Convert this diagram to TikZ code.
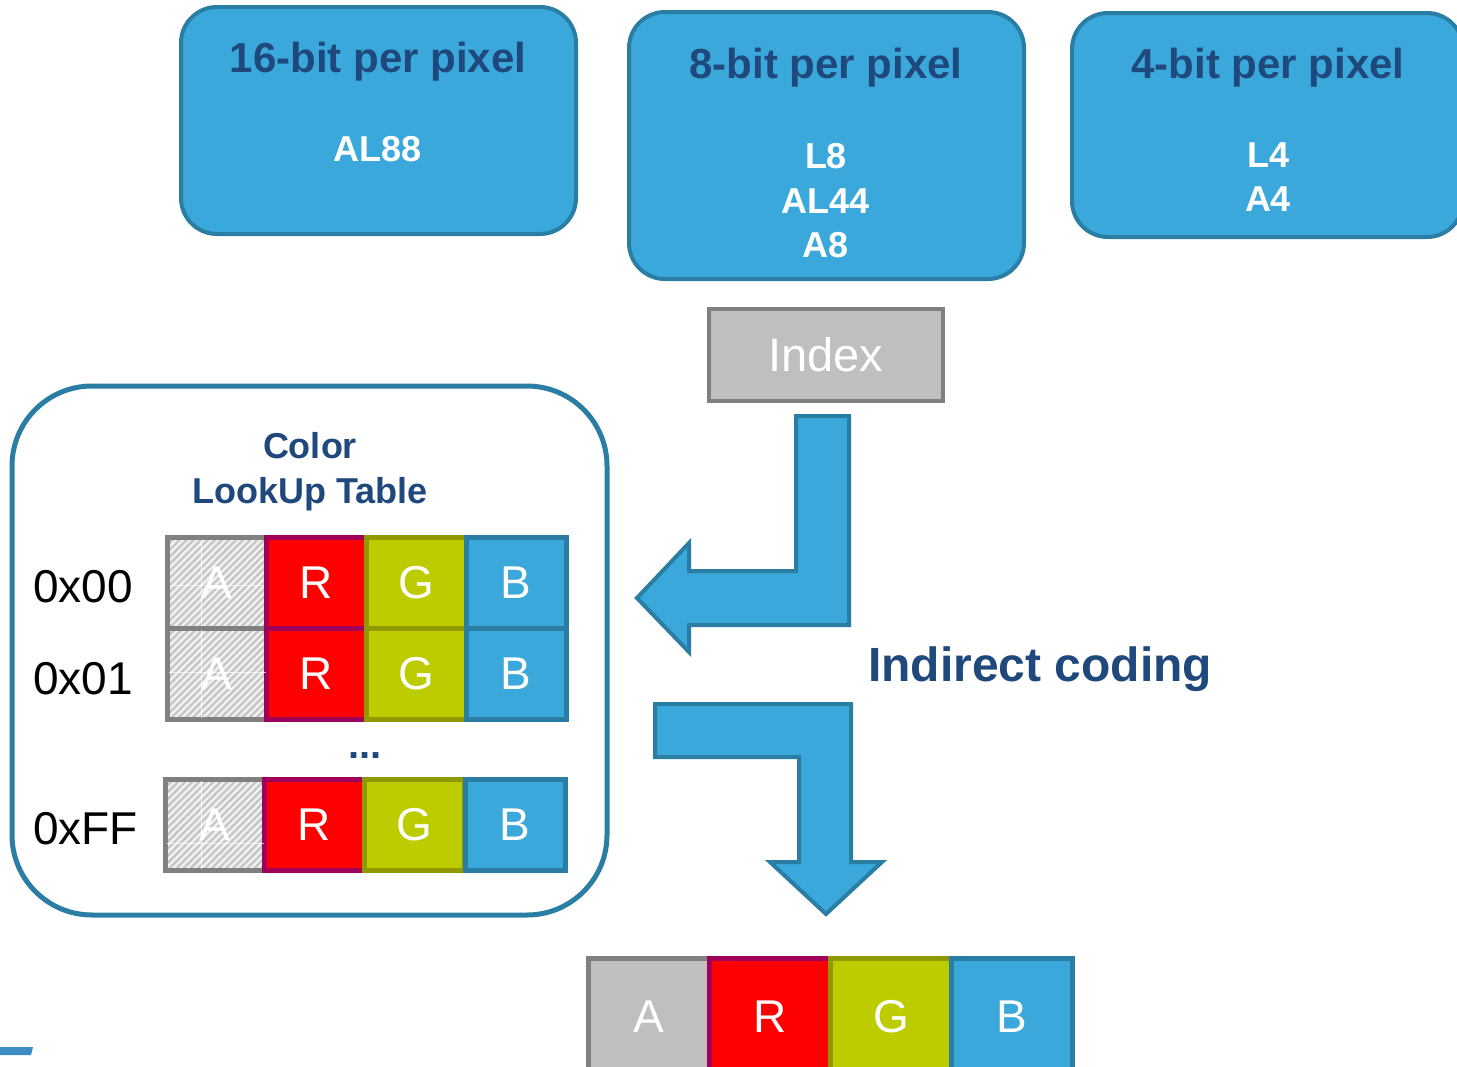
\documentclass[tikz,border=0pt]{standalone}
\usepackage{fontspec}
\setmainfont{Liberation Sans}
\usetikzlibrary{patterns.meta}

\definecolor{boxblue}{HTML}{3AA8DB}
\definecolor{edgeblue}{HTML}{2A7DA3}
\definecolor{navy}{HTML}{1F497D}
\definecolor{idxgray}{HTML}{BFBFBF}
\definecolor{edgegray}{HTML}{808080}
\definecolor{cellred}{HTML}{FF0000}
\definecolor{edgered}{HTML}{A0005A}
\definecolor{cellgreen}{HTML}{BDCC00}
\definecolor{edgegreen}{HTML}{8F9900}
\definecolor{hatchbg}{HTML}{F2F2F2}
\definecolor{hatchline}{HTML}{C6C6C6}
\definecolor{tabblue}{HTML}{3C8DC4}

\newcommand\fsz[1]{\fontsize{#1}{#1}\selectfont}

\begin{document}
\begin{tikzpicture}[x=1pt,y=-1pt,
  fmtbox/.style={draw=edgeblue, fill=boxblue, line width=4pt, rounded corners=36pt, inner sep=0pt},
  hdr/.style={anchor=base, text=navy, font=\fsz{42}\bfseries, inner sep=0pt},
  fmt/.style={anchor=base, text=white, font=\fsz{36}\bfseries, inner sep=0pt},
  cell/.style={minimum width=100pt, minimum height=91pt, inner sep=0pt, line width=5pt, text=white, font=\fsz{46}},
  acell/.style={cell, draw=edgegray, preaction={fill=hatchbg},
                pattern={Lines[angle=45,distance=5pt,line width=2.4pt]}, pattern color=hatchline},
  rcell/.style={cell, draw=edgered, fill=cellred},
  gcell/.style={cell, draw=edgegreen, fill=cellgreen},
  bcell/.style={cell, draw=edgeblue, fill=boxblue},
  wide/.style={minimum width=121pt, minimum height=117pt},
  rowlbl/.style={anchor=base west, font=\fsz{46}, inner sep=0pt},
  bendarrow/.style={draw=edgeblue, fill=boxblue, line width=4pt, line join=miter},
  tilegap/.style={white, line width=1pt, opacity=.7}
]
\useasboundingbox (0,0) rectangle (1457,1066);
\clip (0,0) rectangle (1457,1066);

% pixel-format boxes
\node[fmtbox, minimum width=395pt, minimum height=227pt] (b16) at (378.5,120.5) {};
\node[hdr] (h16) at (378,72) {16-bit per pixel};
\node[fmt] (al88) at (378,161) {AL88};

\node[fmtbox, minimum width=395pt, minimum height=267pt] (b8) at (826.5,145.5) {};
\node[hdr] (h8) at (826,78) {8-bit per pixel};
\node[fmt] (l8) at (826,168) {L8};
\node[fmt] (al44) at (826,213) {AL44};
\node[fmt] (a8) at (826,257) {A8};

\node[fmtbox, minimum width=391pt, minimum height=224pt] (b4) at (1267.5,125) {};
\node[hdr] (h4) at (1268,78) {4-bit per pixel};
\node[fmt] (l4) at (1268,167) {L4};
\node[fmt] (a4) at (1268,211) {A4};

% index
\node[draw=edgegray, fill=idxgray, line width=4pt, minimum width=234pt, minimum height=92pt,
      inner sep=0pt, text=white, font=\fsz{47}] (idx) at (826,355) {Index};

% colour lookup table
\node[draw=edgeblue, fill=white, line width=5pt, rounded corners=80pt,
      minimum width=595pt, minimum height=529pt, inner sep=0pt] (clut) at (309.5,650.5) {};
\node[anchor=base, text=navy, font=\fsz{36}\bfseries, inner sep=0pt] (clutA) at (310,458) {Color};
\node[anchor=base, text=navy, font=\fsz{36}\bfseries, inner sep=0pt] (clutB) at (310,503) {LookUp Table};

\node[rowlbl] (r0) at (33,602) {0x00};
\node[acell] (a0) at (217,583) {A};
\node[rcell] (rr0) at (316,583) {R};
\node[gcell] (g0) at (416,583) {G};
\node[bcell] (bb0) at (516,583) {B};

\node[rowlbl] (r1) at (33,694) {0x01};
\node[acell] (a1) at (217,674) {A};
\node[rcell] (rr1) at (316,674) {R};
\node[gcell] (g1) at (416,674) {G};
\node[bcell] (bb1) at (516,674) {B};

\node[anchor=base, text=navy, font=\fsz{40}\bfseries, inner sep=0pt] (dots) at (365,758) {...};

\node[rowlbl] (rf) at (33,844) {0xFF};
\node[acell] (af) at (215,825) {A};
\node[rcell] (rrf) at (314,825) {R};
\node[gcell] (gf) at (414,825) {G};
\node[bcell] (bbf) at (515,825) {B};

% faint tile seams inside the hatched cells
\foreach \c/\yy in {a0/585, a1/672, af/843} {
  \draw[tilegap] (\c.west |- 0,\yy) ++(4,0) -- ([xshift=-4pt]\c.east |- 0,\yy);
  \draw[tilegap] ([yshift=-4pt]\c.north -| 201,0) -- ([yshift=4pt]\c.south -| 201,0);
}

% bent arrows
\draw[bendarrow] (796,416) -- (849,416) -- (849,625) -- (689,625) -- (689,652)
   -- (637,598) -- (689,543) -- (689,571) -- (796,571) -- cycle;
\draw[bendarrow] (655,704) -- (851,704) -- (851,862) -- (882,862) -- (826,914)
   -- (770,862) -- (799,862) -- (799,757) -- (655,757) -- cycle;

\node[anchor=base west, text=navy, font=\fsz{48}\bfseries, inner sep=0pt] (ind) at (868,681) {Indirect coding};

% resulting pixel
\node[cell, wide, draw=edgegray, fill=idxgray] (pa) at (649,1016.5) {A};
\node[rcell, wide] (pr) at (770,1016.5) {R};
\node[gcell, wide] (pg) at (891,1016.5) {G};
\node[bcell, wide] (pb) at (1012,1016.5) {B};

% tab at the lower left
\fill[tabblue] (0,1047) -- (33,1047) -- (31,1055) -- (0,1055) -- cycle;
\end{tikzpicture}
\end{document}
